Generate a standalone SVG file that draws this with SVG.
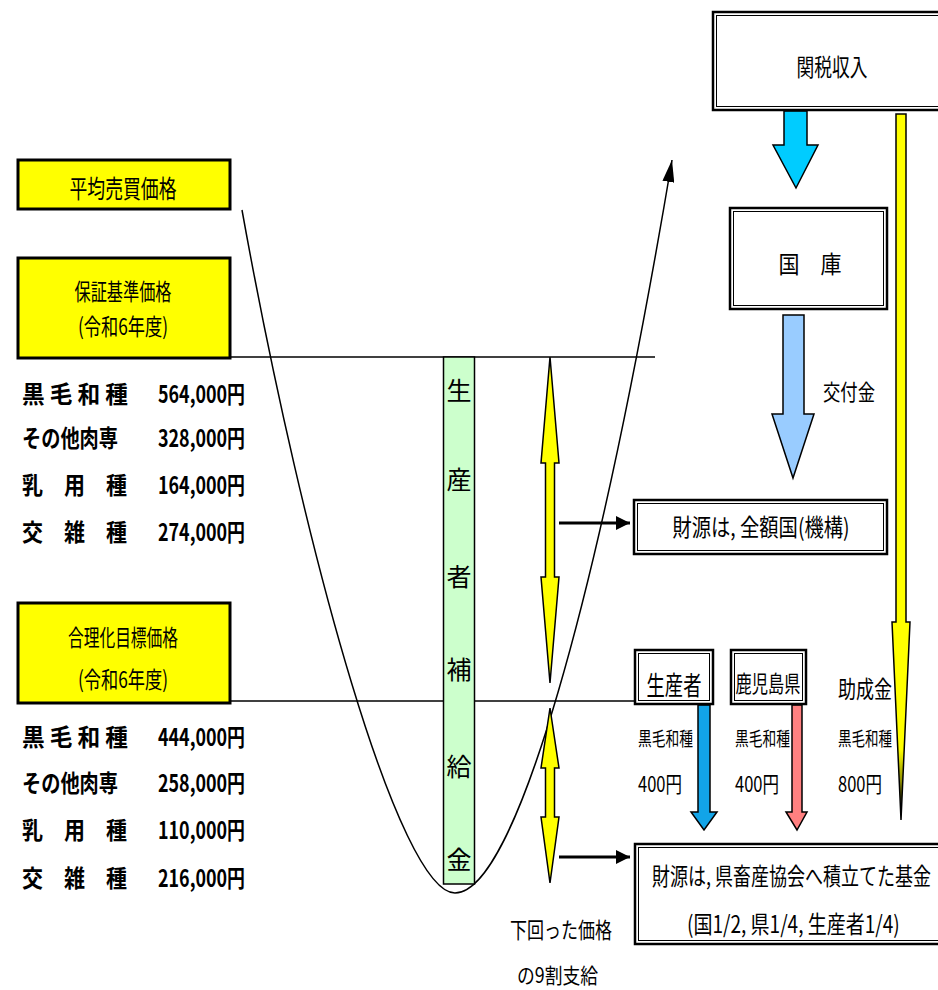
<svg xmlns="http://www.w3.org/2000/svg" width="938" height="990" viewBox="0 0 938 990">
<style>
text{font-family:"Noto Sans CJK JP","Noto Sans",sans-serif;fill:#000;dominant-baseline:central}
.b{font-weight:bold}
.ybox{fill:#FFFF00;stroke:#000;stroke-width:3}
.outer{fill:#fff;stroke:#000;stroke-width:2.5}
.inner{fill:none;stroke:#000;stroke-width:1}
.ln{stroke:#000;stroke-width:1.5;fill:none}
.arw{stroke:#000;stroke-width:1.5}
.conn{stroke:#000;stroke-width:3;fill:none}
</style>
<defs>
<marker id="mh" viewBox="0 0 22 12" refX="22" refY="6" markerWidth="22" markerHeight="12" markerUnits="userSpaceOnUse" orient="auto"><path d="M0,0 L22,6 L0,12 Z" fill="#000"/></marker>
<marker id="mc" viewBox="0 0 14 14" refX="14" refY="7" markerWidth="14" markerHeight="14" markerUnits="userSpaceOnUse" orient="auto"><path d="M0,0 L14,7 L0,14 Z" fill="#000"/></marker>
<linearGradient id="yg" x1="0" y1="0" x2="0" y2="1"><stop offset="0" stop-color="#FFFF00"/><stop offset="0.9" stop-color="#FFFF00"/><stop offset="1" stop-color="#000"/></linearGradient>
</defs>

<g id="connectors">
<line class="ln" x1="230" y1="357" x2="655" y2="357"/>
<line class="ln" x1="230" y1="701" x2="634" y2="701"/>
<path class="ln" d="M242,210 C305,560 400,893 455,893 C515,893 598,600 672,160" marker-end="url(#mh)"/>
<line class="conn" x1="559" y1="523" x2="630" y2="523" marker-end="url(#mc)"/>
<line class="conn" x1="559" y1="857" x2="630" y2="857" marker-end="url(#mc)"/>
<polygon class="arw" fill="#FFFF00" points="550,357 559,463 554.5,463 554.5,577 559,577 550,683 541,577 545.5,577 545.5,463 541,463"/>
<polygon class="arw" fill="#FFFF00" points="550,708 559,768 554.5,768 554.5,817 559,817 550,883 541,817 545.5,817 545.5,768 541,768"/>
<polygon class="arw" fill="#00CCFF" points="784,111 807,111 807,145 818,145 796,188 773,145 784,145"/>
<polygon class="arw" fill="#99CCFF" points="783,315 804,315 804,414 814,414 793,478 772,414 783,414"/>
<polygon class="arw" fill="url(#yg)" points="896,114 906,114 906,622 910,622 901,820 892,622 896,622"/>
<polygon class="arw" fill="#12A4E8" points="698,705 710,705 710,812 717,812 704,830 691,812 698,812"/>
<polygon class="arw" fill="#FF8080" points="792,705 802,705 802,812 807,812 797,830 786,812 792,812"/>
</g>

<g id="heikin">
<rect class="ybox" x="18" y="160" width="212" height="49"/>
<text x="123" y="187" font-size="25" text-anchor="middle" textLength="107" lengthAdjust="spacingAndGlyphs">平均売買価格</text>
</g>

<g id="hosho">
<rect class="ybox" x="18" y="258" width="212" height="100"/>
<text x="123" y="290" font-size="23" text-anchor="middle" textLength="97" lengthAdjust="spacingAndGlyphs">保証基準価格</text>
<text x="123" y="325" font-size="23" text-anchor="middle" textLength="90" lengthAdjust="spacingAndGlyphs">(令和6年度)</text>
</g>

<g id="hosho-list">
<text class="b" x="22" y="392" font-size="24" textLength="106" lengthAdjust="spacingAndGlyphs">黒 毛 和 種</text>
<text class="b" x="158" y="392" font-size="24" textLength="87" lengthAdjust="spacingAndGlyphs">564,000円</text>
<text class="b" x="22" y="436" font-size="24" textLength="96" lengthAdjust="spacingAndGlyphs">その他肉専</text>
<text class="b" x="158" y="436" font-size="24" textLength="87" lengthAdjust="spacingAndGlyphs">328,000円</text>
<text class="b" x="22" y="483" font-size="24" textLength="105" lengthAdjust="spacingAndGlyphs">乳　用　種</text>
<text class="b" x="158" y="483" font-size="24" textLength="87" lengthAdjust="spacingAndGlyphs">164,000円</text>
<text class="b" x="22" y="530" font-size="24" textLength="105" lengthAdjust="spacingAndGlyphs">交　雑　種</text>
<text class="b" x="158" y="530" font-size="24" textLength="87" lengthAdjust="spacingAndGlyphs">274,000円</text>
</g>

<g id="gorika">
<rect class="ybox" x="18" y="603" width="212" height="100"/>
<text x="123" y="636" font-size="23" text-anchor="middle" textLength="110" lengthAdjust="spacingAndGlyphs">合理化目標価格</text>
<text x="123" y="678" font-size="23" text-anchor="middle" textLength="90" lengthAdjust="spacingAndGlyphs">(令和6年度)</text>
</g>

<g id="gorika-list">
<text class="b" x="22" y="735" font-size="24" textLength="106" lengthAdjust="spacingAndGlyphs">黒 毛 和 種</text>
<text class="b" x="158" y="735" font-size="24" textLength="87" lengthAdjust="spacingAndGlyphs">444,000円</text>
<text class="b" x="22" y="781" font-size="24" textLength="96" lengthAdjust="spacingAndGlyphs">その他肉専</text>
<text class="b" x="158" y="781" font-size="24" textLength="87" lengthAdjust="spacingAndGlyphs">258,000円</text>
<text class="b" x="22" y="828" font-size="24" textLength="105" lengthAdjust="spacingAndGlyphs">乳　用　種</text>
<text class="b" x="158" y="828" font-size="24" textLength="87" lengthAdjust="spacingAndGlyphs">110,000円</text>
<text class="b" x="22" y="876" font-size="24" textLength="105" lengthAdjust="spacingAndGlyphs">交　雑　種</text>
<text class="b" x="158" y="876" font-size="24" textLength="87" lengthAdjust="spacingAndGlyphs">216,000円</text>
</g>

<g id="seisansha-hokyukin">
<rect x="443.5" y="357" width="31" height="527" fill="#CCFFCC" stroke="#000" stroke-width="1.5"/>
<text x="459" y="389" font-size="25" text-anchor="middle">生</text>
<text x="459" y="478" font-size="25" text-anchor="middle">産</text>
<text x="459" y="575" font-size="25" text-anchor="middle">者</text>
<text x="459" y="668" font-size="25" text-anchor="middle">補</text>
<text x="459" y="765" font-size="25" text-anchor="middle">給</text>
<text x="459" y="858" font-size="25" text-anchor="middle">金</text>
</g>

<g id="kanzei">
<rect class="outer" x="713" y="12" width="240" height="98"/>
<rect class="inner" x="716.5" y="15.5" width="240" height="91"/>
<text x="832" y="65" font-size="24" text-anchor="middle" textLength="71" lengthAdjust="spacingAndGlyphs">関税収入</text>
</g>

<g id="kokko">
<rect class="outer" x="730" y="208" width="157" height="101"/>
<rect class="inner" x="733.5" y="211.5" width="150" height="94"/>
<text x="810" y="262" font-size="24" text-anchor="middle" textLength="63" lengthAdjust="spacingAndGlyphs">国　庫</text>
</g>

<g id="kofukin">
<text x="823" y="390" font-size="22" textLength="52" lengthAdjust="spacingAndGlyphs">交付金</text>
</g>

<g id="zaigen-kuni">
<rect class="outer" x="634" y="500" width="253" height="54"/>
<rect class="inner" x="637.5" y="503.5" width="246" height="47"/>
<text x="761" y="525" font-size="24" text-anchor="middle" textLength="177" lengthAdjust="spacingAndGlyphs">財源は, 全額国(機構)</text>
</g>

<g id="seisansha">
<rect class="outer" x="635" y="650" width="78" height="54"/>
<rect class="inner" x="638.5" y="653.5" width="71" height="47"/>
<text x="674" y="683" font-size="26" text-anchor="middle" textLength="55" lengthAdjust="spacingAndGlyphs">生産者</text>
</g>

<g id="kagoshima">
<rect class="outer" x="731" y="650" width="75" height="54"/>
<rect class="inner" x="734.5" y="653.5" width="68" height="47"/>
<text x="768" y="682" font-size="23" text-anchor="middle" textLength="65" lengthAdjust="spacingAndGlyphs">鹿児島県</text>
</g>

<g id="joseikin">
<text x="838" y="687" font-size="24" textLength="54" lengthAdjust="spacingAndGlyphs">助成金</text>
</g>

<g id="futan">
<text x="638" y="737" font-size="19" textLength="55" lengthAdjust="spacingAndGlyphs">黒毛和種</text>
<text x="638" y="782" font-size="22" textLength="44" lengthAdjust="spacingAndGlyphs">400円</text>
<text x="735" y="737" font-size="19" textLength="55" lengthAdjust="spacingAndGlyphs">黒毛和種</text>
<text x="735" y="782" font-size="22" textLength="44" lengthAdjust="spacingAndGlyphs">400円</text>
<text x="838" y="737" font-size="19" textLength="54" lengthAdjust="spacingAndGlyphs">黒毛和種</text>
<text x="838" y="782" font-size="22" textLength="44" lengthAdjust="spacingAndGlyphs">800円</text>
</g>

<g id="zaigen-kikin">
<rect class="outer" x="635" y="844" width="320" height="100"/>
<rect class="inner" x="638.5" y="847.5" width="320" height="93"/>
<text transform="translate(652,874) scale(0.75,1)" x="0" y="0" font-size="24" textLength="372" lengthAdjust="spacingAndGlyphs">財源は, 県畜産協会へ積立てた基金</text>
<text transform="translate(687,923) scale(0.8,1)" x="0" y="0" font-size="24" textLength="266" lengthAdjust="spacingAndGlyphs">(国1/2, 県1/4, 生産者1/4)</text>
</g>

<g id="shikyu">
<text x="510" y="928" font-size="22" textLength="102" lengthAdjust="spacingAndGlyphs">下回った価格</text>
<text x="517" y="974" font-size="21" textLength="81" lengthAdjust="spacingAndGlyphs">の9割支給</text>
</g>
</svg>
